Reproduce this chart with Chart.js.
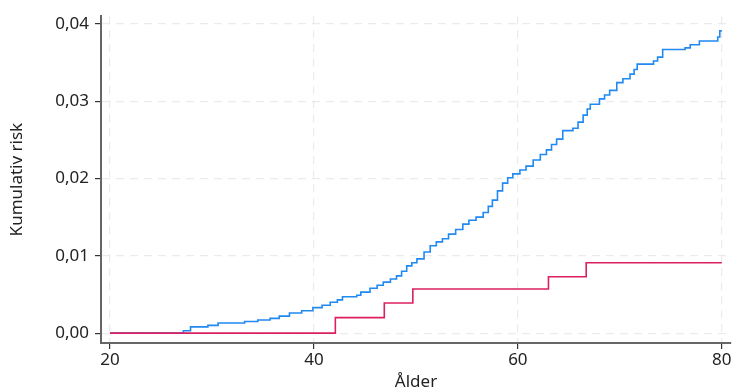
<!DOCTYPE html>
<html>
<head>
<meta charset="utf-8">
<script src="https://cdn.jsdelivr.net/npm/chart.js@4"></script>
<style>
  html, body { margin: 0; padding: 0; background: #fff; }
  #wrap { width: 735px; height: 392px; }
</style>
</head>
<body>
<div id="wrap"><canvas id="riskChart"></canvas></div>
<script>
// ----------------------------------------
// Data
// ----------------------------------------
const xTicks = [20, 40, 60, 80];
const yTicks = [0, 0.01, 0.02, 0.03, 0.04];

// blue curve: age at which the cumulative risk steps up, and the new level
const blueAge = [20, 27.2, 27.9, 29.6, 30.6, 33.2, 34.5, 35.7, 36.6, 37.6, 38.8, 39.9, 40.8, 41.6, 42.3, 42.8,
  44.2, 44.6, 45.5, 46.2, 46.8, 47.5, 48.1, 48.6, 49.1, 49.6, 50.1, 50.8, 51.4, 52.0, 52.6, 53.2, 53.9,
  54.6, 55.2, 55.9, 56.6, 57.1, 57.5, 58.0, 58.5, 59.0, 59.5, 60.2, 60.8, 61.5, 62.2, 62.8, 63.3, 63.8,
  64.4, 65.4, 65.9, 66.4, 66.8, 67.1, 68.0, 68.5, 69.0, 69.7, 70.3, 71.0, 71.4, 71.7, 73.3, 73.7, 74.2,
  76.4, 76.9, 77.8, 79.6, 79.8, 80];
const blueRisk = [0, 0.0003, 0.0008, 0.0010, 0.0013, 0.0015, 0.0017, 0.0019, 0.0022, 0.0026, 0.0029, 0.0033, 0.0036, 0.0040, 0.0043, 0.0047,
  0.0049, 0.0053, 0.0058, 0.0062, 0.0066, 0.0070, 0.0074, 0.0080, 0.0087, 0.0091, 0.0096, 0.0105, 0.0113, 0.0118, 0.0122, 0.0128, 0.0134,
  0.0141, 0.0146, 0.0150, 0.0156, 0.0164, 0.0172, 0.0184, 0.0194, 0.0201, 0.0206, 0.0211, 0.0216, 0.0224, 0.0231, 0.0237, 0.0244, 0.0251,
  0.0262, 0.0265, 0.0273, 0.0282, 0.0290, 0.0296, 0.0303, 0.0308, 0.0314, 0.0324, 0.0329, 0.0335, 0.0341, 0.0348, 0.0352, 0.0357, 0.0367,
  0.0369, 0.0373, 0.0378, 0.0383, 0.0391, 0.0391];

// red curve
const redAge = [20, 42.1, 46.9, 49.7, 63.0, 66.7, 80];
const redRisk = [0, 0.0020, 0.0039, 0.0057, 0.0073, 0.0091, 0.0091];

const toPoints = (xs, ys) => xs.map((x, i) => ({ x: x, y: ys[i] }));

// ----------------------------------------
// Chart
// ----------------------------------------
const FONT = "'Noto Sans', sans-serif";

new Chart(document.getElementById('riskChart'), {
  type: 'line',
  data: {
    datasets: [
      {
        label: 'Röd',
        data: toPoints(redAge, redRisk),
        borderColor: '#dc1f60',
        borderWidth: 1.6,
        stepped: 'before',
        pointRadius: 0,
        fill: false,
      },
      {
        label: 'Blå',
        data: toPoints(blueAge, blueRisk),
        borderColor: '#2189f2',
        borderWidth: 1.6,
        stepped: 'before',
        pointRadius: 0,
        fill: false,
      }
    ]
  },
  options: {
    responsive: true,
    maintainAspectRatio: false,
    animation: false,
    layout: { padding: { top: 13, right: 4, left: 0, bottom: 0 } },
    plugins: {
      legend: { display: false },
      tooltip: { enabled: false }
    },
    scales: {
      x: {
        type: 'linear',
        min: 19.12,
        max: 80.9,
        afterBuildTicks: (scale) => { scale.ticks = xTicks.map(v => ({ value: v })); },
        afterFit: (scale) => { scale.height = 49; },
        border: { color: '#666', width: 2, dash: [8, 6] },
        grid: { color: '#ebebeb', lineWidth: 1.2, tickLength: 6, tickColor: '#333', tickBorderDash: [] },
        ticks: { color: '#222', font: { family: FONT, size: 17 }, padding: 1, maxRotation: 0 },
        title: { display: true, text: 'Ålder', color: '#222', font: { family: FONT, size: 17 }, padding: { top: -3, bottom: 0 } }
      },
      y: {
        type: 'linear',
        min: -0.00128,
        max: 0.041,
        afterBuildTicks: (scale) => { scale.ticks = yTicks.map(v => ({ value: v })); },
        afterFit: (scale) => { scale.width = 101; },
        border: { color: '#666', width: 2, dash: [8, 6] },
        grid: { color: '#ebebeb', lineWidth: 1.2, tickLength: 6, tickColor: '#333', tickBorderDash: [] },
        ticks: {
          color: '#222',
          font: { family: FONT, size: 17 },
          padding: 6,
          callback: (v) => v.toFixed(2).replace('.', ',')
        },
        title: { display: true, text: 'Kumulativ risk', color: '#222', font: { family: FONT, size: 17 }, padding: { top: 7, bottom: 4 } }
      }
    }
  }
});
</script>
</body>
</html>
